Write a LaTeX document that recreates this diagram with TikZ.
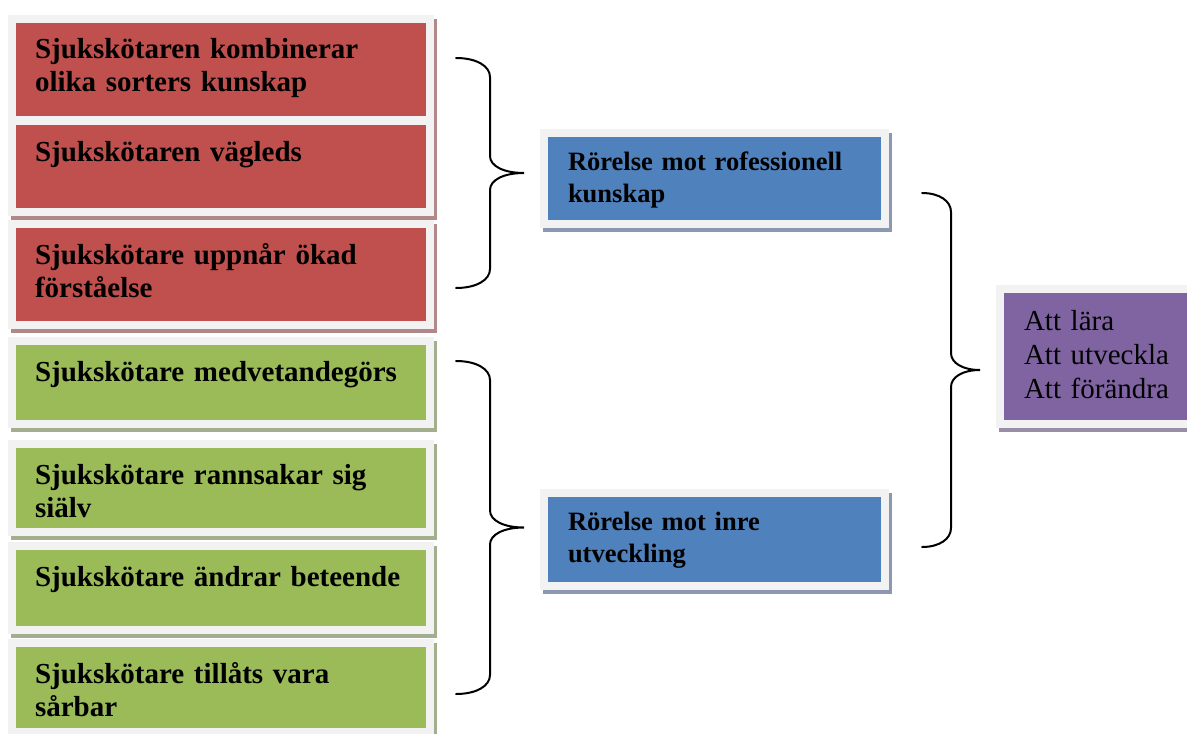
\documentclass[tikz,border=0pt]{standalone}
\usepackage{fontspec}
\setmainfont{Liberation Serif}

\definecolor{redfill}{HTML}{C0504D}
\definecolor{redshade}{RGB}{176,136,136}
\definecolor{greenfill}{HTML}{9BBB59}
\definecolor{greenshade}{RGB}{162,174,142}
\definecolor{bluefill}{HTML}{4F81BD}
\definecolor{blueshade}{RGB}{140,152,178}
\definecolor{purplefill}{HTML}{8064A2}
\definecolor{purpleshade}{RGB}{152,142,168}
\definecolor{framegray}{HTML}{F2F2F2}

\begin{document}
\begin{tikzpicture}[
    x = 0.5pt, y = -0.5pt,
    box/.style = {rectangle, anchor=north west, inner sep=0pt, outer sep=0pt, align=left,
        fill=#1fill, draw=framegray, line width=4pt,
        preaction={fill=#1shade, draw=#1shade, transform canvas={shift={(1.5pt,-2pt)}}}},
    item box/.style = {box=#1, inner xsep=11.5pt, text width=186pt, text height=20pt,
        font=\bfseries\fontsize{14.5}{16.5}\selectfont},
    theme box/.style = {box=blue, inner xsep=12pt, text width=146.5pt, text height=18.5pt,
        font=\bfseries\fontsize{13.25}{16}\selectfont},
    goal box/.style = {box=purple, inner xsep=12pt, text width=78pt, text height=20.5pt,
        font=\fontsize{14.5}{17}\selectfont},
    curly/.style = {line width=1pt, line cap=round}
]
\useasboundingbox (0,0) rectangle (1187,733);

\foreach \n/\y/\d/\col/\txt in {
    r1/19/30.5/red/{Sjukskötaren kombinerar\\olika sorters kunskap},
    r2/121/25.5/red/{Sjukskötaren vägleds},
    r3/224/30.5/red/{Sjukskötare uppnår ökad\\förståelse},
    g1/341/21.5/green/{Sjukskötare medvetandegörs},
    g2/444/24/green/{Sjukskötare rannsakar sig\\siälv},
    g3/546/22/green/{Sjukskötare ändrar beteende},
    g4/643/24.5/green/{Sjukskötare tillåts vara\\sårbar}}{
    \node[item box=\col, text depth=\d*1pt] (\n) at (12,\y) {\txt};
}

\node[theme box, text depth=27pt] (t1) at (544,133) {Rörelse mot rofessionell\\kunskap};
\node[theme box, text depth=28pt] (t2) at (544,493) {Rörelse mot inre\\utveckling};

\node[goal box, text depth=47pt] (goal) at (1000,289) {Att lära\\Att utveckla\\Att förändra};

% braces: x of the ends, top, bottom, half width
\foreach \x/\t/\b/\w in {456/58/288/34, 456/361/694/34, 922/193/547/29}{
    \pgfmathsetmacro\m{(\t+\b)/2}
    \draw[curly] (\x,\t) .. controls (\x+0.6*\w,\t) and (\x+\w,\t+8) .. (\x+\w,\t+19)
        -- (\x+\w,\m-17) .. controls (\x+\w,\m-7) and (\x+1.4*\w,\m) .. (\x+2*\w,\m)
        .. controls (\x+1.4*\w,\m) and (\x+\w,\m+7) .. (\x+\w,\m+17)
        -- (\x+\w,\b-19) .. controls (\x+\w,\b-8) and (\x+0.6*\w,\b) .. (\x,\b);
}

\end{tikzpicture}
\end{document}
